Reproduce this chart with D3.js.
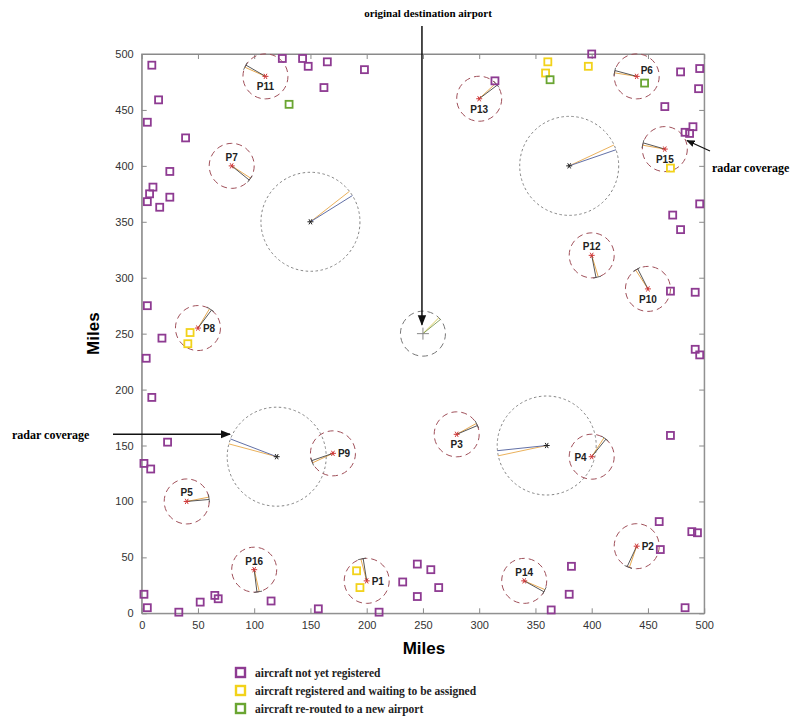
<!DOCTYPE html>
<html>
<head>
<meta charset="utf-8">
<script src="https://cdn.jsdelivr.net/npm/d3@7"></script>
<style>
  body { margin: 0; background: #fff; }
  svg { display: block; }
</style>
</head>
<body>
<div id="chart"></div>
<script>
// ---- data (miles) ----
const planeNames = ["P1","P2","P3","P4","P5","P6","P7","P8","P9","P10","P11","P12","P13","P14","P15","P16"];
const planeX     = [200, 440, 280, 400, 40, 440, 80, 50, 170, 450, 110, 400, 300, 340, 465, 100];
const planeY     = [29, 60, 160, 140, 100, 480, 400, 255, 143, 290, 480, 320, 460, 29, 415, 39];
const planeDir   = [102, 248, 26, 54, 8, 168, -36, 56, 202, 120, 153, -76, 40, -26, 167, -80]; // heading, degrees
const planeLabel = ["right","right","below","left","above","rightup","above","right","right","below","below","above","below","above","below","above"];
const planeRadius = 20;

const airportX   = [150, 380, 120, 360];
const airportY   = [350, 400, 140, 150];
const airportDir = [35, 22, 162, 189];
const airportRadius = 44;

const destX = 250, destY = 250, destDir = 42, destRadius = 20;

const notRegX = [9,125,143,148,165,198,162,15,5,39,25,10,7,5,16,25,400,314,479,496,495,465,490,487,483,496,472,479,
                 5,18,4,9,470,492,492,496,470,23,2,8,2,5,33,52,65,68,115,157,211,232,245,245,257,264,382,380,364,460,461,489,494,483];
const notRegY = [490,496,496,489,493,486,470,459,439,425,395,381,375,368,363,372,500,476,484,487,469,453,435,429,430,366,356,343,
                 275,246,228,193,288,287,236,231,159,153,134,129,17,5,1,10,16,13,11,4,1,28,44,15,39,23,42,17,3,82,57,73,72,5];
const waitX = [361, 359, 397, 470, 43, 41, 191, 194];
const waitY = [493, 483, 489, 398, 251, 241, 38, 23];
const rerouteX = [131, 363, 447];
const rerouteY = [455, 477, 474];

const xTicks = [0,50,100,150,200,250,300,350,400,450,500];
const yTicks = [0,50,100,150,200,250,300,350,400,450,500];

const legendLabels = ["aircraft not yet registered", "aircraft registered and waiting to be assigned", "aircraft re-routed to a new airport"];
const legendColors = ["#8e3b92", "#f2d21a", "#6aa532"];

// ---- layout ----
const width = 804, height = 716;
const x = d3.scaleLinear().domain([0, 500]).range([141.7, 704.2]);
const y = d3.scaleLinear().domain([0, 500]).range([613.3, 54]);
const rpx = r => x(r) - x(0);

const svg = d3.select("#chart").append("svg")
    .attr("width", width)
    .attr("height", height)
    .style("font-family", "'Liberation Sans', Arial, sans-serif");

svg.append("defs").append("marker")
    .attr("id", "arrow")
    .attr("viewBox", "0 0 10 10")
    .attr("refX", 9).attr("refY", 5)
    .attr("markerWidth", 7).attr("markerHeight", 7)
    .attr("orient", "auto-start-reverse")
  .append("path")
    .attr("d", "M0,1 L10,5 L0,9 Z")
    .attr("fill", "#111");

// frame
svg.append("rect")
    .attr("x", x(0)).attr("y", y(500))
    .attr("width", x(500) - x(0)).attr("height", y(0) - y(500))
    .attr("fill", "none").attr("stroke", "#8a8a8a").attr("stroke-width", 1);

// axes with inward ticks
const xAxis = d3.axisBottom(x).tickValues(xTicks).tickSizeInner(-5).tickSizeOuter(0).tickPadding(8);
const yAxis = d3.axisLeft(y).tickValues(yTicks).tickSizeInner(-5).tickSizeOuter(0).tickPadding(8);

svg.append("g").attr("transform", `translate(0,${y(0)})`).call(xAxis);
svg.append("g").attr("transform", `translate(${x(0)},0)`).call(yAxis);
svg.append("g").attr("transform", `translate(0,${y(500)})`)
    .call(d3.axisTop(x).tickValues(xTicks).tickSizeInner(-5).tickSizeOuter(0).tickFormat(""));
svg.append("g").attr("transform", `translate(${x(500)},0)`)
    .call(d3.axisRight(y).tickValues(yTicks).tickSizeInner(-5).tickSizeOuter(0).tickFormat(""));

svg.selectAll(".domain").attr("stroke", "#8a8a8a");
svg.selectAll(".tick line").attr("stroke", "#8a8a8a");
svg.selectAll(".tick text").attr("fill", "#333").attr("font-size", "11px")
    .attr("font-family", "'Liberation Sans', Arial, sans-serif");

// axis titles
svg.append("text")
    .attr("x", (x(0) + x(500)) / 2 + 1).attr("y", 654)
    .attr("text-anchor", "middle")
    .attr("font-size", "17px").attr("font-weight", "bold")
    .text("Miles");
svg.append("text")
    .attr("transform", `translate(99,${(y(0) + y(500)) / 2}) rotate(-90)`)
    .attr("text-anchor", "middle")
    .attr("font-size", "17px").attr("font-weight", "bold")
    .text("Miles");

const plot = svg.append("g");

// helper: point at angle/radius from a centre, in pixels
function polar(cx, cy, deg, r) {
  const a = deg * Math.PI / 180;
  return [x(cx) + r * Math.cos(a), y(cy) - r * Math.sin(a)];
}

function asterisk(g, cx, cy, color, s) {
  [0, 60, 120].forEach(a => {
    const p1 = polar(cx, cy, a, s), p2 = polar(cx, cy, a + 180, s);
    g.append("line")
      .attr("x1", p1[0]).attr("y1", p1[1]).attr("x2", p2[0]).attr("y2", p2[1])
      .attr("stroke", color).attr("stroke-width", 1);
  });
}

// wedge of heading lines
function heading(g, cx, cy, deg, r, colA, colB, tick) {
  const c = [x(cx), y(cy)];
  const pA = polar(cx, cy, deg + 3, r);
  const pB = polar(cx, cy, deg - 3, r);
  g.append("line").attr("x1", c[0]).attr("y1", c[1]).attr("x2", pA[0]).attr("y2", pA[1])
    .attr("stroke", colA).attr("stroke-width", 0.9);
  g.append("line").attr("x1", c[0]).attr("y1", c[1]).attr("x2", pB[0]).attr("y2", pB[1])
    .attr("stroke", colB).attr("stroke-width", 0.9);
  if (tick) {
    const p = polar(cx, cy, deg, r);
    const a = (deg + 90) * Math.PI / 180;
    g.append("line")
      .attr("x1", p[0] + 4 * Math.cos(a)).attr("y1", p[1] - 4 * Math.sin(a))
      .attr("x2", p[0] - 4 * Math.cos(a)).attr("y2", p[1] + 4 * Math.sin(a))
      .attr("stroke", "#555").attr("stroke-width", 0.9);
  }
}

// airport radar coverage circles
airportX.forEach((ax, i) => {
  plot.append("circle")
    .attr("cx", x(ax)).attr("cy", y(airportY[i])).attr("r", rpx(airportRadius))
    .attr("fill", "none").attr("stroke", "#777").attr("stroke-width", 0.9)
    .attr("stroke-dasharray", "2.5,2.5");
  heading(plot, ax, airportY[i], airportDir[i], rpx(airportRadius), "#e8a84a", "#50609c", false);
  asterisk(plot, ax, airportY[i], "#222", 3);
});

// original destination airport
plot.append("circle")
  .attr("cx", x(destX)).attr("cy", y(destY)).attr("r", rpx(destRadius))
  .attr("fill", "none").attr("stroke", "#777").attr("stroke-width", 1)
  .attr("stroke-dasharray", "6,4");
heading(plot, destX, destY, destDir, rpx(destRadius), "#d8c850", "#7a9a50", false);
plot.append("line").attr("x1", x(destX) - 6).attr("x2", x(destX) + 6)
  .attr("y1", y(destY)).attr("y2", y(destY)).attr("stroke", "#888");
plot.append("line").attr("x1", x(destX)).attr("x2", x(destX))
  .attr("y1", y(destY) - 6).attr("y2", y(destY) + 6).attr("stroke", "#888");

// planes
planeNames.forEach((name, i) => {
  const px = planeX[i], py = planeY[i];
  plot.append("circle")
    .attr("cx", x(px)).attr("cy", y(py)).attr("r", rpx(planeRadius))
    .attr("fill", "none").attr("stroke", "#a0505a").attr("stroke-width", 1)
    .attr("stroke-dasharray", "6,4");
  heading(plot, px, py, planeDir[i], rpx(planeRadius), "#e3a040", "#444", true);
  asterisk(plot, px, py, "#d03838", 3);

  const pos = planeLabel[i];
  let lx = x(px), ly = y(py) + 4, anchor = "middle";
  if (pos === "below") ly = y(py) + 14;
  if (pos === "above") ly = y(py) - 5;
  if (pos === "right") { lx = x(px) + 5; anchor = "start"; }
  if (pos === "rightup") { lx = x(px) + 4; ly = y(py) - 2; anchor = "start"; }
  if (pos === "left") { lx = x(px) - 5; anchor = "end"; }
  plot.append("text")
    .attr("x", lx).attr("y", ly)
    .attr("text-anchor", anchor)
    .attr("font-size", "10px").attr("font-weight", "bold").attr("fill", "#222")
    .text(name);
});

// aircraft squares
function squares(xs, ys, color) {
  plot.append("g").selectAll("rect")
    .data(xs.map((d, i) => [d, ys[i]]))
    .join("rect")
      .attr("x", d => x(d[0]) - 3.5)
      .attr("y", d => y(d[1]) - 3.5)
      .attr("width", 7).attr("height", 7)
      .attr("fill", "none")
      .attr("stroke", color)
      .attr("stroke-width", 1.8);
}
squares(notRegX, notRegY, legendColors[0]);
squares(waitX, waitY, legendColors[1]);
squares(rerouteX, rerouteY, legendColors[2]);

// annotations
const serif = "'Liberation Serif', 'Times New Roman', serif";
svg.append("text")
  .attr("x", 428).attr("y", 17)
  .attr("text-anchor", "middle")
  .attr("font-family", serif).attr("font-weight", "bold").attr("font-size", "11px")
  .text("original destination airport");
svg.append("line")
  .attr("x1", x(destX) - 1).attr("y1", 26)
  .attr("x2", x(destX) - 1).attr("y2", y(destY) - 9)
  .attr("stroke", "#111").attr("stroke-width", 1.5)
  .attr("marker-end", "url(#arrow)");

svg.append("text")
  .attr("x", 12).attr("y", 439)
  .attr("font-family", serif).attr("font-weight", "bold").attr("font-size", "12px")
  .text("radar coverage");
svg.append("line")
  .attr("x1", 113).attr("y1", 434.3)
  .attr("x2", 230).attr("y2", 434.3)
  .attr("stroke", "#111").attr("stroke-width", 1.5)
  .attr("marker-end", "url(#arrow)");

svg.append("text")
  .attr("x", 712).attr("y", 172)
  .attr("font-family", serif).attr("font-weight", "bold").attr("font-size", "12px")
  .text("radar coverage");
svg.append("line")
  .attr("x1", 710).attr("y1", 151)
  .attr("x2", 687).attr("y2", 140.5)
  .attr("stroke", "#111").attr("stroke-width", 1.2)
  .attr("marker-end", "url(#arrow)");

// legend
const legend = svg.append("g").attr("transform", "translate(235,667)");
legendLabels.forEach((lab, i) => {
  legend.append("rect")
    .attr("x", 1).attr("y", i * 18 + 1)
    .attr("width", 9).attr("height", 9)
    .attr("fill", "none").attr("stroke", legendColors[i]).attr("stroke-width", 2.4);
  legend.append("text")
    .attr("x", 20).attr("y", i * 18 + 10)
    .attr("font-family", serif).attr("font-weight", "bold").attr("font-size", "11.5px")
    .attr("fill", "#222")
    .text(lab);
});
</script>
</body>
</html>
